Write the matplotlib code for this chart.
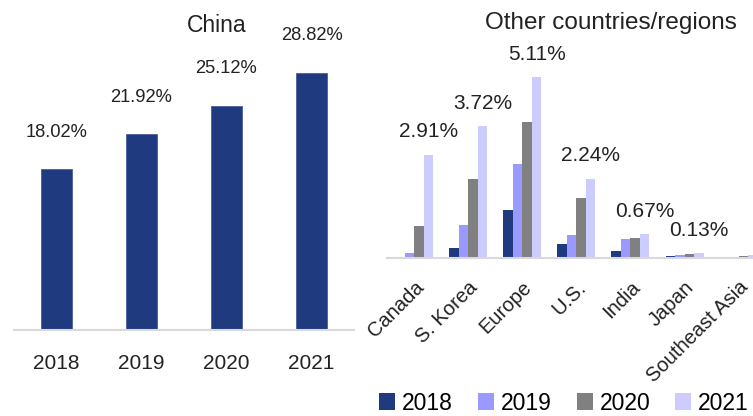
import numpy as np
import matplotlib
matplotlib.use("Agg")
import matplotlib.pyplot as plt

plt.rcParams['font.family'] = ['Liberation Sans', 'DejaVu Sans']

# China share by year
years = ["2018", "2019", "2020", "2021"]
china_share = [18.02, 21.92, 25.12, 28.82]

# Other countries/regions, share by year
regions = ["Canada", "S. Korea", "Europe", "U.S.", "India", "Japan", "Southeast Asia"]
share_2018 = [0.00, 0.29, 1.36, 0.40, 0.19, 0.05, 0.01]
share_2019 = [0.15, 0.94, 2.65, 0.66, 0.53, 0.08, 0.04]
share_2020 = [0.90, 2.22, 3.83, 1.70, 0.57, 0.10, 0.05]
share_2021 = [2.91, 3.72, 5.11, 2.24, 0.67, 0.13, 0.09]
shown_labels = ["2.91%", "3.72%", "5.11%", "2.24%", "0.67%", "0.13%", ""]

colors = ["#203a80", "#9999ff", "#808080", "#ccccff"]
axis_gray = "#d9d9d9"

W, H = 753, 416
fig = plt.figure(figsize=(W / 100, H / 100), dpi=100)


def px_axes(x0, x1, y_base, y_top):
    # pixel box (from top-left) -> figure fraction axes
    return fig.add_axes([x0 / W, (H - y_base) / H, (x1 - x0) / W, (y_base - y_top) / H])


# ---- left: China ----
ax1 = px_axes(14, 354, 330, 10)
x = np.arange(len(years))
ax1.bar(x, china_share, width=0.376, color=colors[0], edgecolor="#4a5f9c", linewidth=0.6)
ax1.set_xlim(-0.5, 3.5)
ax1.set_ylim(0, 320 / 8.92)
for xi, v in zip(x, china_share):
    ax1.annotate(f"{v:.2f}%", (xi, v), xytext=(0, 37), textcoords="offset pixels",
                 ha="center", va="center", fontsize=13.2, color="#222222")
ax1.set_xticks(x)
ax1.set_xticklabels(years, fontsize=15, color="#222222")
ax1.tick_params(axis="x", length=0, pad=17.5)
ax1.set_yticks([])
for s in ["top", "right", "left"]:
    ax1.spines[s].set_visible(False)
ax1.spines["bottom"].set_color(axis_gray)
ax1.spines["bottom"].set_linewidth(1.5)
fig.text(217 / W, 1 - 25 / H, "China", ha="center", va="center", fontsize=16.5, color="#222222")

# ---- right: other countries/regions ----
ax2 = px_axes(387, 387 + 7 * 54.1, 258, 40)
xr = np.arange(len(regions))
bw = 0.176
series = [share_2018, share_2019, share_2020, share_2021]
for i, (vals, c) in enumerate(zip(series, colors)):
    ax2.bar(xr + (i - 1.5) * bw, vals, width=bw, color=c, label=years[i], linewidth=0)
ax2.set_xlim(-0.5, 6.5)
ax2.set_ylim(0, 218 / 35.4)
for xi, v, lab in zip(xr, share_2021, shown_labels):
    if lab:
        ax2.annotate(lab, (xi + 1.5 * bw, v), xytext=(0, 23), textcoords="offset pixels",
                     ha="center", va="center", fontsize=15, color="#222222")
ax2.set_xticks(xr)
ax2.set_xticklabels(regions, fontsize=14.5, color="#222222", rotation=45,
                    ha="right", va="top", rotation_mode="anchor")
ax2.tick_params(axis="x", length=0, pad=14)
ax2.set_yticks([])
for s in ["top", "right", "left"]:
    ax2.spines[s].set_visible(False)
ax2.spines["bottom"].set_color(axis_gray)
ax2.spines["bottom"].set_linewidth(1.5)
fig.text(611 / W, 1 - 23 / H, "Other countries/regions", ha="center", va="center",
         fontsize=17.5, color="#222222")

leg = fig.legend(*ax2.get_legend_handles_labels(), loc="center", ncol=4,
                 bbox_to_anchor=(564 / W, 1 - 403 / H), frameon=False, fontsize=16.5,
                 handlelength=0.7, handleheight=0.7, handletextpad=0.3, columnspacing=1.08,
                 borderpad=0)

fig.savefig("out.png", dpi=100)
